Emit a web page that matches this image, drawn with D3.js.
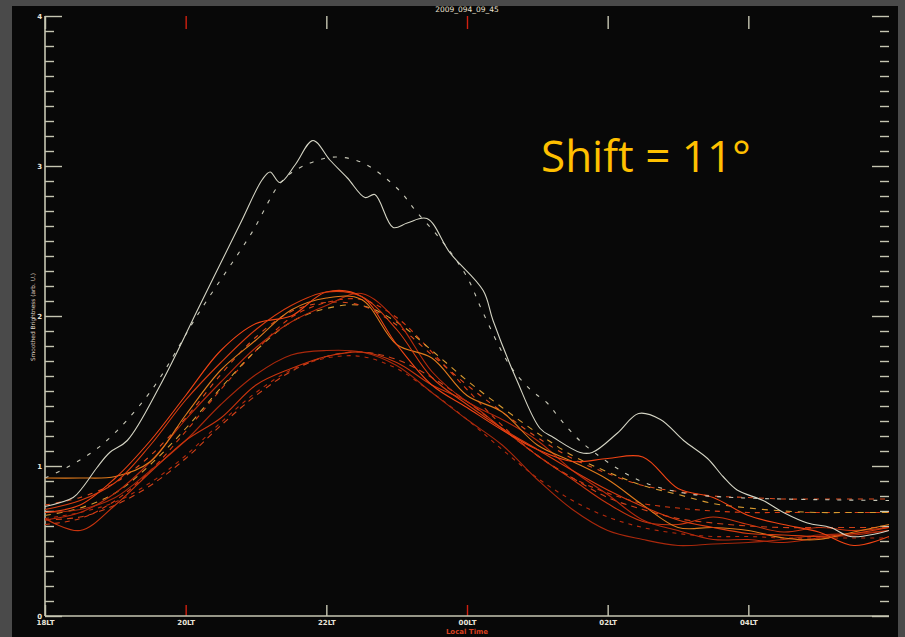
<!DOCTYPE html>
<html>
<head>
<meta charset="utf-8">
<script src="https://cdn.jsdelivr.net/npm/d3@7"></script>
<style>
  body { margin: 0; background: #4a4a4a; }
  svg { display: block; }
</style>
</head>
<body>
<svg id="chart" width="905" height="637"></svg>
<script>
// title and axis labels
var title = "2009_094_09_45"
var yLabel = "Smoothed Brightness (arb. U.)"
var xLabel = "Local Time"
var shiftText = "Shift = 11\u00b0"

// x ticks (hours past 18LT), y ticks
var xTickHours = [18, 20, 22, 24, 26, 28]
var xTickLabels = ["18LT", "20LT", "22LT", "00LT", "02LT", "04LT"]
var yMajor = [0, 1, 2, 3, 4]

// half hour grid used by the red curves
var hours = [18, 18.5, 19, 19.5, 20, 20.5, 21, 21.5, 22, 22.5, 23, 23.5, 24,
             24.5, 25, 25.5, 26, 26.5, 27, 27.5, 28, 28.5, 29, 29.5, 30]

// white measured curve
var whiteHours = [18.0, 18.4, 18.54, 18.74, 18.92, 19.17, 19.64, 20.2, 20.77, 21.09, 21.2, 21.34,
                  21.56, 21.81, 22.05, 22.3, 22.55, 22.69, 22.95, 23.15, 23.43, 23.76, 24.23, 24.37,
                  24.71, 25.04, 25.23, 25.61, 25.78, 26.14, 26.44, 26.75, 27.08, 27.42, 27.64, 27.84,
                  28.21, 28.5, 28.84, 29.17, 29.45, 29.84, 30.0]
var whiteSolid = [0.73, 0.79, 0.86, 0.99, 1.09, 1.17, 1.54, 2.07, 2.61, 2.91, 2.96, 2.89,
                  3.01, 3.17, 3.04, 2.92, 2.79, 2.81, 2.59, 2.62, 2.65, 2.42, 2.17, 1.97,
                  1.57, 1.25, 1.19, 1.09, 1.09, 1.22, 1.35, 1.31, 1.17, 1.05, 0.93, 0.84,
                  0.77, 0.69, 0.62, 0.59, 0.53, 0.55, 0.57]

// white fitted curve
var whiteFitHours = [18.0, 18.31, 18.83, 19.49, 20.2, 20.92, 21.39, 21.77, 22.13, 22.52, 23.01, 23.29,
                     23.66, 24.0, 24.23, 24.61, 24.9, 25.14, 25.33, 25.65, 26.42, 27.08, 27.79, 30.0]
var whiteFit = [0.92, 0.99, 1.15, 1.49, 2.03, 2.54, 2.91, 3.02, 3.06, 3.02, 2.85, 2.69,
                2.49, 2.26, 2.02, 1.67, 1.51, 1.42, 1.31, 1.15, 0.91, 0.82, 0.79, 0.77]

// red / orange measured curves (on the half hour grid)
var red1 = [0.71, 0.77, 0.89, 1.14, 1.44, 1.69, 1.91, 2.07, 2.16, 2.13, 1.91, 1.59, 1.41,
            1.25, 1.11, 0.97, 0.84, 0.73, 0.64, 0.59, 0.55, 0.54, 0.53, 0.55, 0.59]
var red2 = [0.69, 0.74, 0.92, 1.17, 1.47, 1.77, 1.95, 2.00, 2.16, 2.13, 1.81, 1.54, 1.39,
            1.24, 1.11, 1.03, 1.05, 1.06, 0.85, 0.79, 0.67, 0.61, 0.56, 0.47, 0.53]
var red3 = [0.92, 0.92, 0.93, 1.03, 1.34, 1.64, 1.84, 2.04, 2.12, 2.11, 1.81, 1.72, 1.47,
            1.36, 1.14, 1.03, 0.91, 0.74, 0.59, 0.59, 0.57, 0.52, 0.51, 0.56, 0.61]
var red4 = [0.64, 0.69, 0.82, 1.03, 1.31, 1.56, 1.79, 1.96, 2.07, 2.15, 1.97, 1.63, 1.43,
            1.31, 1.17, 0.97, 0.81, 0.64, 0.57, 0.51, 0.51, 0.49, 0.52, 0.54, 0.57]
var red5 = [0.65, 0.57, 0.74, 0.96, 1.17, 1.32, 1.54, 1.65, 1.73, 1.76, 1.69, 1.54, 1.43,
            1.25, 1.07, 0.91, 0.75, 0.63, 0.61, 0.66, 0.61, 0.56, 0.59, 0.57, 0.59]
var red6 = [0.69, 0.71, 0.79, 0.97, 1.17, 1.41, 1.61, 1.74, 1.77, 1.76, 1.67, 1.49, 1.31,
            1.14, 0.91, 0.71, 0.57, 0.51, 0.47, 0.48, 0.49, 0.51, 0.54, 0.55, 0.57]

// red / orange fitted curves
var fit1 = [0.74, 0.79, 0.89, 1.07, 1.32, 1.61, 1.86, 2.03, 2.09, 2.07, 1.94, 1.74, 1.54,
            1.36, 1.19, 1.05, 0.95, 0.87, 0.83, 0.80, 0.79, 0.78, 0.78, 0.78, 0.78]
var fit2 = [0.67, 0.72, 0.82, 1.01, 1.25, 1.52, 1.77, 1.96, 2.05, 2.07, 1.96, 1.77, 1.57,
            1.39, 1.22, 1.07, 0.96, 0.87, 0.81, 0.75, 0.72, 0.70, 0.69, 0.69, 0.69]
var fit3 = [0.61, 0.65, 0.77, 0.97, 1.23, 1.51, 1.77, 1.99, 2.09, 2.11, 1.99, 1.76, 1.51,
            1.27, 1.07, 0.92, 0.82, 0.75, 0.72, 0.70, 0.69, 0.69, 0.69, 0.69, 0.69]
var fit4 = [0.64, 0.66, 0.74, 0.87, 1.05, 1.27, 1.47, 1.63, 1.73, 1.76, 1.71, 1.59, 1.43,
            1.25, 1.07, 0.92, 0.79, 0.71, 0.65, 0.62, 0.60, 0.59, 0.59, 0.59, 0.59]
var fit5 = [0.65, 0.69, 0.76, 0.89, 1.07, 1.29, 1.49, 1.64, 1.72, 1.73, 1.65, 1.49, 1.31,
            1.11, 0.92, 0.77, 0.66, 0.59, 0.55, 0.53, 0.53, 0.52, 0.52, 0.52, 0.52]

// list of series to draw: x values, y values, colour, dash
var series = [
    { x: hours, y: fit5, color: "#b82a0c", dash: "4,5" },
    { x: hours, y: fit4, color: "#d04018", dash: "6,5" },
    { x: hours, y: fit3, color: "#d83a12", dash: "5,5" },
    { x: hours, y: fit2, color: "#d89a30", dash: "6,6" },
    { x: hours, y: fit1, color: "#e04a1c", dash: "5,6" },
    { x: hours, y: red6, color: "#a8280c", dash: null },
    { x: hours, y: red5, color: "#c8340e", dash: null },
    { x: hours, y: red4, color: "#b82a0c", dash: null },
    { x: hours, y: red3, color: "#e07a1c", dash: null },
    { x: hours, y: red2, color: "#f04414", dash: null },
    { x: hours, y: red1, color: "#d83c10", dash: null },
    { x: whiteFitHours, y: whiteFit, color: "#c8c8b8", dash: "4,8" },
    { x: whiteHours, y: whiteSolid, color: "#d4d4c4", dash: null }
]

var svg = d3.select("#chart")
var axisColor = "#c6c6b2"

// grey slide background and black plot panel
svg.append("rect").attr("width", 905).attr("height", 637).attr("fill", "#4a4a4a")
svg.append("rect").attr("x", 12).attr("y", 6).attr("width", 886).attr("height", 631).attr("fill", "#080808")

var x = d3.scaleLinear().domain([18, 30]).range([45, 889])
var y = d3.scaleLinear().domain([0, 4]).range([616, 16])

var yMinor = d3.range(0, 40).map(function(i) { return i / 10 }).filter(function(v) { return v % 1 !== 0 })

// minor ticks left / right
svg.append("g").attr("transform", "translate(45,0)")
    .call(d3.axisLeft(y).tickValues(yMinor).tickSize(-9).tickSizeOuter(0).tickFormat(""))
svg.append("g").attr("transform", "translate(889,0)")
    .call(d3.axisRight(y).tickValues(yMinor).tickSize(-9).tickSizeOuter(0).tickFormat(""))

// major ticks with labels
svg.append("g").attr("class", "ymaj").attr("transform", "translate(45,0)")
    .call(d3.axisLeft(y).tickValues(yMajor).tickSize(-17).tickSizeOuter(0).tickPadding(3).tickFormat(d3.format("d")))
svg.append("g").attr("transform", "translate(889,0)")
    .call(d3.axisRight(y).tickValues(yMajor).tickSize(-17).tickSizeOuter(0).tickFormat(""))

// bottom and top x ticks
svg.append("g").attr("class", "xax").attr("transform", "translate(0,616)")
    .call(d3.axisBottom(x).tickValues(xTickHours).tickSize(-11).tickSizeOuter(0).tickPadding(4)
        .tickFormat(function(d, i) { return xTickLabels[i] }))
svg.append("g").attr("transform", "translate(0,16)")
    .call(d3.axisTop(x).tickValues(xTickHours).tickSize(-13).tickSizeOuter(0).tickFormat(""))

svg.selectAll(".domain").attr("stroke", "none")
svg.selectAll(".tick line").attr("stroke", axisColor).attr("stroke-width", 1.4)
svg.selectAll(".tick text").attr("fill", "#e8e4d8").attr("font-family", "DejaVu Sans")
    .attr("font-size", 7).attr("font-weight", "bold")

// axis lines (left and bottom only)
svg.append("line").attr("x1", 45).attr("x2", 45).attr("y1", y(4)).attr("y2", y(0))
    .attr("stroke", axisColor).attr("stroke-width", 1.6)
svg.append("line").attr("x1", 45).attr("x2", 889).attr("y1", y(0)).attr("y2", y(0))
    .attr("stroke", axisColor).attr("stroke-width", 1.6)

// red ticks at 20LT and 00LT like the picture
svg.selectAll(".tick line").filter(function(d) { return d === 20 || d === 24 }).attr("stroke", "#d02010")

// curves
svg.append("clipPath").attr("id", "clip").append("rect")
    .attr("x", 45).attr("y", 16).attr("width", 844).attr("height", 600)

var line = d3.line().curve(d3.curveCatmullRom.alpha(0.5))

svg.append("g").attr("clip-path", "url(#clip)")
    .selectAll("path").data(series).join("path")
    .attr("d", function(s) { return line(s.x.map(function(h, i) { return [x(h), y(s.y[i])] })) })
    .attr("fill", "none")
    .attr("stroke", function(s) { return s.color })
    .attr("stroke-width", 1.1)
    .attr("stroke-dasharray", function(s) { return s.dash })

// title, axis titles
svg.append("text").attr("x", 467).attr("y", 12).attr("text-anchor", "middle")
    .attr("font-family", "DejaVu Sans").attr("font-size", 7.5).attr("fill", "#e8e0d0").text(title)
svg.append("text").attr("x", 467).attr("y", 634).attr("text-anchor", "middle")
    .attr("font-family", "DejaVu Sans").attr("font-size", 7).attr("font-weight", "bold")
    .attr("fill", "#d84020").text(xLabel)
svg.append("text").attr("transform", "translate(35,317) rotate(-90)").attr("text-anchor", "middle")
    .attr("font-family", "DejaVu Sans").attr("font-size", 5.8).attr("fill", "#e0d8c8").text(yLabel)

// annotation
svg.append("text").attr("x", 541).attr("y", 172)
    .attr("font-family", "Open Sans").attr("font-size", 44).attr("fill", "#ffc000").text(shiftText)
</script>
</body>
</html>
